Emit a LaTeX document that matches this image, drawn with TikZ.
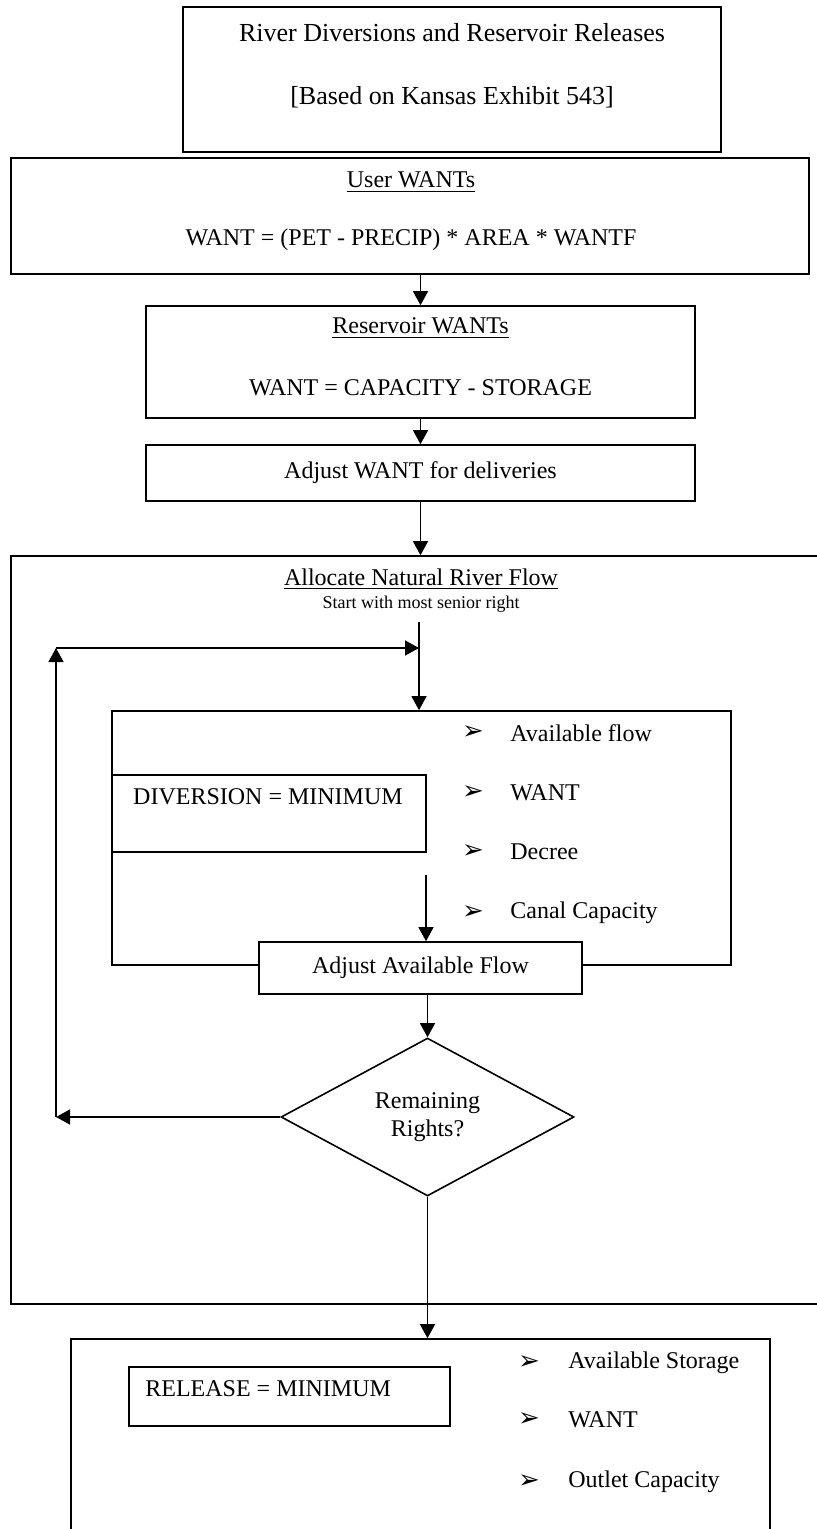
\documentclass[tikz,border=0pt]{standalone}
\usepackage{fontspec}
\setmainfont{Liberation Serif}
\newfontfamily\symbolfont{DejaVu Sans}
\usetikzlibrary{shapes.geometric, arrows.meta}

\newcommand{\pointer}{{\symbolfont\fontsize{13}{15}\selectfont ➢}}

\begin{document}
\begin{tikzpicture}[x=0.5pt, y=-0.5pt,
    font=\fontsize{12}{14}\selectfont,
    box/.style={draw, line width=0.8pt, rectangle, inner sep=0pt},
    arr/.style={-{Triangle[length=7pt, width=7.5pt]}, line width=0.65pt},
    item/.style={anchor=west, inner sep=0pt},
    pointermark/.style={inner sep=0pt}]
    \useasboundingbox (0,0) rectangle (817,1529);

    % Heading
    \node[box, minimum width=269pt, minimum height=72.5pt] (titlebox) at (452,79.5) {};
    \node[font=\fontsize{13}{15}\selectfont] (titletext) at (452,33) {River Diversions and Reservoir Releases};
    \node[font=\fontsize{13}{15}\selectfont] (titlesub) at (452,97) {[Based on Kansas Exhibit 543]};

    % User and reservoir WANTs
    \node[box, minimum width=399pt, minimum height=58pt] (userbox) at (410,216) {};
    \node (usertitle) at (411,182) {\underline{User WANTs}};
    \node (userform) at (411,240) {WANT = (PET - PRECIP) * AREA * WANTF};

    \node[box, minimum width=274.5pt, minimum height=56pt] (resbox) at (420.5,362) {};
    \node (restitle) at (420.5,328) {\underline{Reservoir WANTs}};
    \node (resform) at (420.5,388) {WANT = CAPACITY - STORAGE};

    \node[box, minimum width=274.5pt, minimum height=28pt] (adjwant) at (420.5,473) {Adjust WANT for deliveries};

    % Allocation of natural flow
    \node[box, minimum width=409.5pt, minimum height=374pt] (alloc) at (420.5,930) {};
    \node (alloctitle) at (421,579) {\underline{Allocate Natural River Flow}};
    \node[font=\fontsize{9}{11}\selectfont] (allocsub) at (421,604) {Start with most senior right};

    \node[box, minimum width=309.5pt, minimum height=127pt] (inner) at (421.5,838) {};
    \node[box, minimum width=157pt, minimum height=38.5pt] (divbox) at (269,813.5) {};
    \node (divtext) at (268,797) {DIVERSION = MINIMUM};

    \node[pointermark] (m1) at (473,733) {\pointer};
    \node[item] (i1) at (510,733) {Available flow};
    \node[pointermark] (m2) at (473,793) {\pointer};
    \node[item] (i2) at (510,793) {WANT};
    \node[pointermark] (m3) at (473,852) {\pointer};
    \node[item] (i3) at (510,852) {Decree};
    \node[pointermark] (m4) at (473,913) {\pointer};
    \node[item] (i4) at (510,913) {Canal Capacity};

    \node[box, fill=white, minimum width=161.5pt, minimum height=26pt] (adjflow) at (420.5,968) {Adjust Available Flow};
    \node[draw, diamond, line width=0.8pt, aspect=2, inner sep=0pt, align=center,
          minimum width=146.5pt, minimum height=79pt] (dia) at (427.5,1117) {Remaining\\Rights?};

    % Releases
    \node[box, minimum width=349.5pt, minimum height=103pt] (relbox) at (420.5,1442) {};
    \node[box, minimum width=160.5pt, minimum height=29.5pt] (relmin) at (289.5,1396.5) {};
    \node[item] (reltext) at (145,1389) {RELEASE = MINIMUM};

    \node[pointermark] (r1) at (529,1363) {\pointer};
    \node[item] (j1) at (568,1363) {Available Storage};
    \node[pointermark] (r2) at (529,1420) {\pointer};
    \node[item] (j2) at (568,1420) {WANT};
    \node[pointermark] (r3) at (529,1482) {\pointer};
    \node[item] (j3) at (568,1482) {Outlet Capacity};

    % Loop points
    \coordinate (looptop) at (419,622);
    \coordinate (loopcorner) at (56,648);
    \coordinate (loopleft) at (56,1117);
    \coordinate (divdrop) at (426,875);

    % Arrows
    \draw[arr] (resbox.north |- userbox.south) -- (resbox.north);
    \draw[arr] (resbox.south) -- (adjwant.north);
    \draw[arr] (adjwant.south) -- (alloc.north);
    \draw[arr] (looptop) -- (inner.north -| looptop);
    \draw[arr] (loopcorner) -- (looptop |- loopcorner);
    \draw[arr] (loopleft) -- (loopcorner);
    \draw[arr] (dia.west) -- (loopleft);
    \draw[arr] (divdrop) -- (adjflow.north -| divdrop);
    \draw[arr] (adjflow.south -| dia.north) -- (dia.north);
    \draw[arr] (dia.south) -- (relbox.north -| dia.south);
\end{tikzpicture}
\end{document}
